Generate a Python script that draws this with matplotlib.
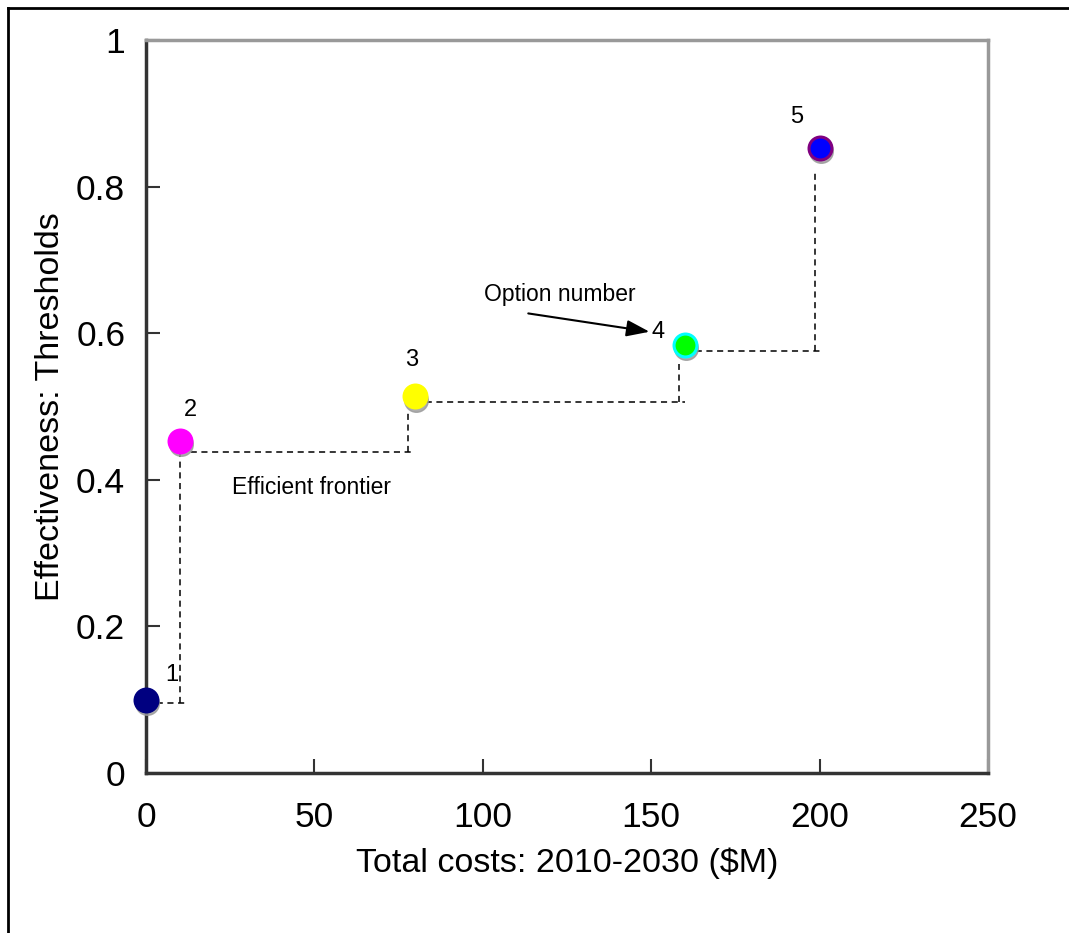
import matplotlib
matplotlib.use("Agg")
import matplotlib.pyplot as plt
import matplotlib.transforms as mtransforms
from matplotlib.lines import Line2D

plt.rcParams['font.family'] = ['Liberation Sans', 'DejaVu Sans']

# Data
options = ["1", "2", "3", "4", "5"]
costs = [0, 10, 80, 160, 200]
effectiveness = [0.10, 0.453, 0.514, 0.584, 0.853]
face_colors = ["#000080", "#ff00ff", "#ffff00", "#00ff00", "#0000ff"]
edge_colors = ["#000080", "#ff00ff", "#ffff00", "#00ffff", "#800080"]

# Efficient frontier staircase (dashed segments)
frontier_h_x0 = [0, 10, 80, 160]
frontier_h_x1 = [12.5, 80, 160, 200.7]
frontier_h_y = [0.095, 0.438, 0.506, 0.576]
frontier_v_x = [10, 77.8, 158.3, 198.6]
frontier_v_y0 = [0.095, 0.438, 0.506, 0.576]
frontier_v_y1 = [0.44, 0.492, 0.558, 0.823]

label_offsets_x = [7.7, 3.1, -1, -8, -6.7]
label_offsets_y = [0.034, 0.042, 0.049, 0.018, 0.042]

fig = plt.figure(figsize=(10.69, 9.33), dpi=100)
ax = fig.add_axes([0.1366, 0.1715, 0.7876, 0.7856])

ax.set_xlim(0, 250)
ax.set_ylim(0, 1)
ax.set_xticks([0, 50, 100, 150, 200, 250])
ax.set_yticks([0, 0.2, 0.4, 0.6, 0.8, 1])
ax.set_yticklabels(["0", "0.2", "0.4", "0.6", "0.8", "1"])
ax.tick_params(direction='in', length=10, width=1.5, labelsize=25.5, color='#333333')
ax.tick_params(axis='y', pad=15)
ax.tick_params(axis='x', pad=20)

for s in ['left', 'bottom']:
    ax.spines[s].set_color('#333333')
    ax.spines[s].set_linewidth(2.5)
for s in ['top', 'right']:
    ax.spines[s].set_color('#999999')
    ax.spines[s].set_linewidth(2.5)

dash = dict(color='black', linestyle=(0, (4, 3)), linewidth=1.1, zorder=2)
for x0, x1, y in zip(frontier_h_x0, frontier_h_x1, frontier_h_y):
    ax.plot([x0, x1], [y, y], **dash)
for x, y0, y1 in zip(frontier_v_x, frontier_v_y0, frontier_v_y1):
    ax.plot([x, x], [y0, y1], **dash)

shadow = ax.transData + mtransforms.ScaledTranslation(1/100, -3.5/100, fig.dpi_scale_trans)
for x, y in zip(costs, effectiveness):
    ax.plot([x], [y], 'o', ms=17, color='#999999', mec='#999999', alpha=0.8,
            transform=shadow, zorder=3, clip_on=False)
for x, y, fc, ec in zip(costs, effectiveness, face_colors, edge_colors):
    ax.plot([x], [y], 'o', ms=16.5, mfc=fc, mec=ec, mew=2.2, zorder=4, clip_on=False)

for lab, x, y, dx, dy in zip(options, costs, effectiveness, label_offsets_x, label_offsets_y):
    ax.text(x + dx, y + dy, lab, fontsize=17, ha='center', va='center')

ax.text(25.5, 0.390, "Efficient frontier", fontsize=16.5, ha='left', va='center')
ax.annotate("", xy=(149.5, 0.602), xytext=(113.5, 0.627),
            arrowprops=dict(arrowstyle='-|>,head_length=1.4,head_width=0.5',
                            color='black', lw=1.5, shrinkA=0, shrinkB=0))
ax.text(123, 0.653, "Option number", fontsize=16.5, ha='center', va='center')

ax.set_xlabel("Total costs: 2010-2030 ($M)", fontsize=24.5, labelpad=10)
ax.set_ylabel("Effectiveness: Thresholds", fontsize=24.5, labelpad=7)

# figure frame (left and top edges)
fig.add_artist(Line2D([8/1069, 8/1069], [0, 1 - 8/933], transform=fig.transFigure,
                      color='black', lw=2))
fig.add_artist(Line2D([8/1069, 1], [1 - 8/933, 1 - 8/933], transform=fig.transFigure,
                      color='black', lw=2))

fig.savefig("out.png", dpi=100)
